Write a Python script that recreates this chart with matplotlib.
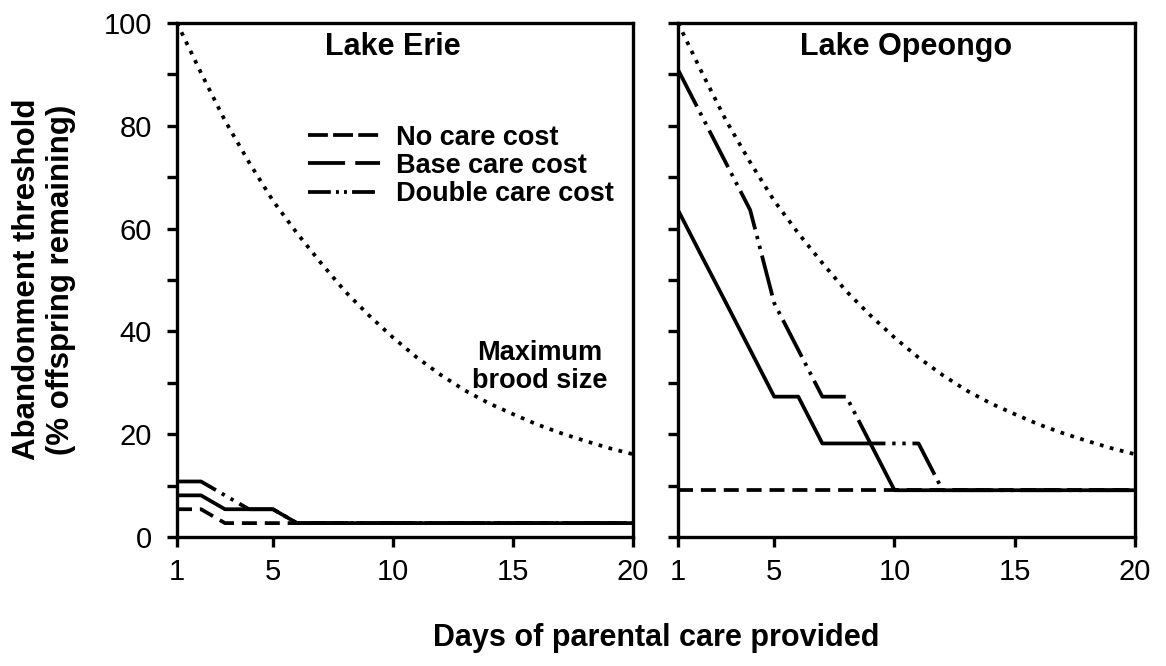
import matplotlib
matplotlib.use("Agg")
import matplotlib.pyplot as plt
from matplotlib.lines import Line2D

plt.rcParams['font.family'] = ['Liberation Sans', 'DejaVu Sans']

days = list(range(1, 21))
max_brood = [100, 90.3, 81.0, 72.9, 65.4, 59.1, 53.3, 47.8, 43.1, 38.8,
             34.9, 31.5, 28.5, 26.0, 23.9, 21.9, 20.2, 18.7, 17.3, 16.1]

erie_none = [5.4, 5.4, 2.7, 2.7, 2.7, 2.7, 2.7, 2.7, 2.7, 2.7,
             2.7, 2.7, 2.7, 2.7, 2.7, 2.7, 2.7, 2.7, 2.7, 2.7]
erie_base = [8.1, 8.1, 5.4, 5.4, 5.4, 2.7, 2.7, 2.7, 2.7, 2.7,
             2.7, 2.7, 2.7, 2.7, 2.7, 2.7, 2.7, 2.7, 2.7, 2.7]
erie_double = [10.8, 10.8, 8.1, 5.4, 5.4, 2.7, 2.7, 2.7, 2.7, 2.7,
               2.7, 2.7, 2.7, 2.7, 2.7, 2.7, 2.7, 2.7, 2.7, 2.7]

opeongo_none = [9.1, 9.1, 9.1, 9.1, 9.1, 9.1, 9.1, 9.1, 9.1, 9.1,
                9.1, 9.1, 9.1, 9.1, 9.1, 9.1, 9.1, 9.1, 9.1, 9.1]
opeongo_base = [63.6, 54.5, 45.5, 36.4, 27.3, 27.3, 18.2, 18.2, 18.2, 9.1,
                9.1, 9.1, 9.1, 9.1, 9.1, 9.1, 9.1, 9.1, 9.1, 9.1]
opeongo_double = [90.9, 81.8, 72.7, 63.6, 45.5, 36.4, 27.3, 27.3, 18.2, 18.2,
                  18.2, 9.1, 9.1, 9.1, 9.1, 9.1, 9.1, 9.1, 9.1, 9.1]

legend_labels = ['No care cost', 'Base care cost', 'Double care cost']

lw = 2.7
dotted = (0, (1.0, 1.75))
dash_none = (0, (4.0, 2.1))
dash_double = (0, (11, 1.8, 0.9, 1.8, 0.9, 1.8))

fig = plt.figure(figsize=(11.66, 6.66), dpi=100)
ax1 = fig.add_axes([0.1518, 0.1937, 0.3911, 0.7718])
ax2 = fig.add_axes([0.5815, 0.1937, 0.3919, 0.7718])

panels = [
    (ax1, 'Lake Erie', erie_none, erie_base, erie_double, 10.0),
    (ax2, 'Lake Opeongo', opeongo_none, opeongo_base, opeongo_double, 10.5),
]

for ax, name, none, base, double, tx in panels:
    ax.plot(days, max_brood, color='black', lw=lw, ls=dotted)
    ax.plot(days, double, color='black', lw=lw, ls=dash_double)
    ax.plot(days, none, color='black', lw=lw, ls=dash_none)
    ax.plot(days, base, color='black', lw=lw, ls='-')
    ax.set_xlim(1, 20)
    ax.set_ylim(0, 100)
    ax.set_xticks([1, 5, 10, 15, 20])
    for s in ax.spines.values():
        s.set_linewidth(2.4)
    ax.tick_params(axis='both', which='both', direction='out', length=7, width=2.4,
                   labelsize=21)
    ax.tick_params(axis='x', pad=8)
    ax.tick_params(axis='y', pad=11)
    ax.text(tx, 95.3, name, ha='center', va='center', fontsize=22, fontweight='bold')

ax1.set_yticks([0, 20, 40, 60, 80, 100])
ax1.set_yticks([10, 30, 50, 70, 90], minor=True)
ax2.set_yticks([0, 10, 20, 30, 40, 50, 60, 70, 80, 90, 100])
ax2.set_yticklabels([])

ax1.text(16.1, 33, 'Maximum\nbrood size', ha='center', va='center', fontsize=19.5,
         fontweight='bold', linespacing=1.1)

handles = [
    Line2D([], [], color='black', lw=lw, ls=(0, (5.3, 1.4))),
    Line2D([], [], color='black', lw=lw, ls=(0, (9.9, 2.7))),
    Line2D([], [], color='black', lw=lw, ls=(0, (6.1, 1.35, 0.8, 1.35, 0.8, 1.35))),
]
ax1.legend(handles, legend_labels, loc='upper left', bbox_to_anchor=(0.287, 0.802),
           frameon=False, handlelength=2.65, handletextpad=0.6, labelspacing=0.08,
           borderpad=0, borderaxespad=0, prop={'size': 19.5, 'weight': 'bold'})

fig.text(44 / 1166, 0.58, 'Abandonment threshold\n(% offspring remaining)', rotation=90,
         ha='center', va='center', fontsize=22.5, fontweight='bold', multialignment='center')
fig.text(656 / 1166, 0.042, 'Days of parental care provided', ha='center', va='center',
         fontsize=22, fontweight='bold')

fig.savefig('out.png', dpi=100)
